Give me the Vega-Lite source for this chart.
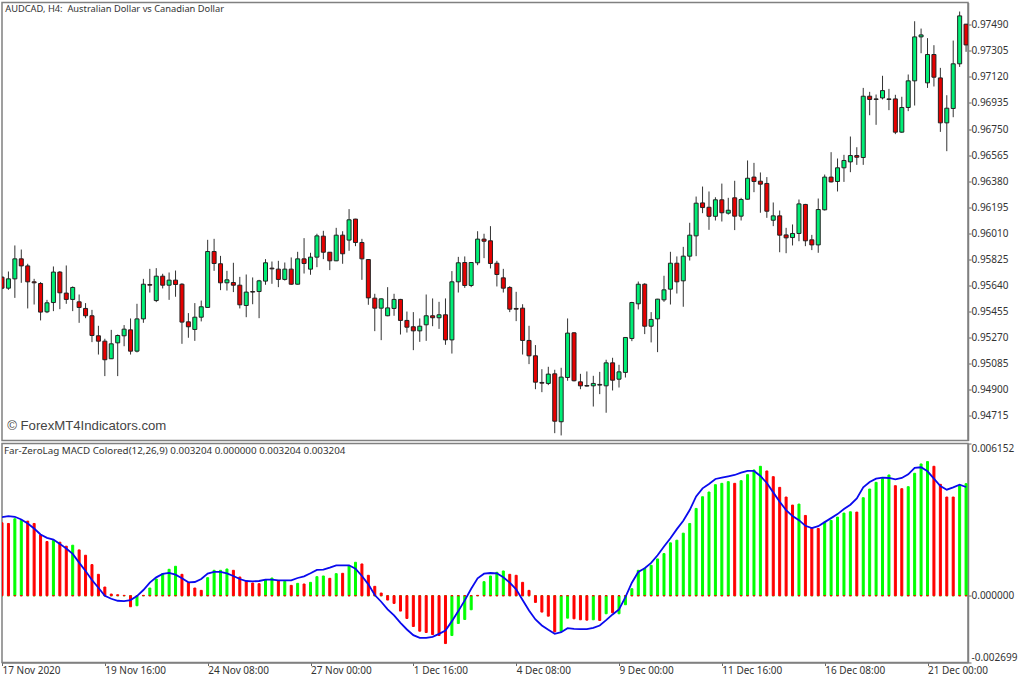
{"$schema":"https://vega.github.io/schema/vega-lite/v6.json","padding":{"left":0,"top":1.5,"right":0,"bottom":0},"background":"white","spacing":3,"bounds":"flush","config":{"view":{"stroke":"#808080","strokeWidth":1.5},"axis":{"labelFont":"Noto Sans","labelFontSize":10,"labelColor":"#333333","tickColor":"#666666","domainColor":"#808080","title":null,"grid":false,"labelOverlap":false}},
"datasets":{"candles":[
{"i":0,"o":95699,"h":95704,"l":95614,"c":95621,"dir":"down"},
{"i":1,"o":95621,"h":95739,"l":95609,"c":95687,"dir":"up"},
{"i":2,"o":95687,"h":95924,"l":95552,"c":95829,"dir":"up"},
{"i":3,"o":95829,"h":95895,"l":95659,"c":95779,"dir":"down"},
{"i":4,"o":95779,"h":95794,"l":95477,"c":95666,"dir":"down"},
{"i":5,"o":95666,"h":95687,"l":95505,"c":95659,"dir":"down"},
{"i":6,"o":95654,"h":95664,"l":95392,"c":95451,"dir":"down"},
{"i":7,"o":95453,"h":95538,"l":95444,"c":95517,"dir":"up"},
{"i":8,"o":95519,"h":95775,"l":95458,"c":95735,"dir":"up"},
{"i":9,"o":95735,"h":95742,"l":95472,"c":95588,"dir":"down"},
{"i":10,"o":95586,"h":95782,"l":95510,"c":95541,"dir":"down"},
{"i":11,"o":95541,"h":95633,"l":95458,"c":95626,"dir":"up"},
{"i":12,"o":95524,"h":95576,"l":95375,"c":95484,"dir":"down"},
{"i":13,"o":95477,"h":95515,"l":95408,"c":95425,"dir":"down"},
{"i":14,"o":95425,"h":95467,"l":95238,"c":95285,"dir":"down"},
{"i":15,"o":95283,"h":95354,"l":95150,"c":95245,"dir":"down"},
{"i":16,"o":95245,"h":95262,"l":94997,"c":95113,"dir":"down"},
{"i":17,"o":95120,"h":95325,"l":95118,"c":95226,"dir":"up"},
{"i":18,"o":95233,"h":95292,"l":94997,"c":95285,"dir":"up"},
{"i":19,"o":95283,"h":95359,"l":95209,"c":95330,"dir":"up"},
{"i":20,"o":95325,"h":95406,"l":95150,"c":95174,"dir":"down"},
{"i":21,"o":95174,"h":95510,"l":95165,"c":95403,"dir":"up"},
{"i":22,"o":95403,"h":95687,"l":95375,"c":95649,"dir":"up"},
{"i":23,"o":95647,"h":95758,"l":95590,"c":95642,"dir":"down"},
{"i":24,"o":95533,"h":95763,"l":95522,"c":95706,"dir":"up"},
{"i":25,"o":95706,"h":95723,"l":95619,"c":95642,"dir":"down"},
{"i":26,"o":95642,"h":95732,"l":95538,"c":95678,"dir":"up"},
{"i":27,"o":95678,"h":95746,"l":95560,"c":95647,"dir":"down"},
{"i":28,"o":95649,"h":95656,"l":95226,"c":95380,"dir":"down"},
{"i":29,"o":95382,"h":95444,"l":95269,"c":95347,"dir":"down"},
{"i":30,"o":95328,"h":95515,"l":95247,"c":95415,"dir":"up"},
{"i":31,"o":95415,"h":95533,"l":95385,"c":95489,"dir":"up"},
{"i":32,"o":95484,"h":95964,"l":95481,"c":95881,"dir":"up"},
{"i":33,"o":95881,"h":95971,"l":95744,"c":95796,"dir":"down"},
{"i":34,"o":95794,"h":95850,"l":95607,"c":95659,"dir":"down"},
{"i":35,"o":95659,"h":95744,"l":95604,"c":95680,"dir":"up"},
{"i":36,"o":95661,"h":95801,"l":95593,"c":95642,"dir":"down"},
{"i":37,"o":95642,"h":95701,"l":95477,"c":95503,"dir":"down"},
{"i":38,"o":95498,"h":95718,"l":95415,"c":95593,"dir":"up"},
{"i":39,"o":95597,"h":95697,"l":95507,"c":95593,"dir":"down"},
{"i":40,"o":95597,"h":95680,"l":95408,"c":95673,"dir":"up"},
{"i":41,"o":95671,"h":95827,"l":95645,"c":95801,"dir":"up"},
{"i":42,"o":95763,"h":95810,"l":95652,"c":95758,"dir":"down"},
{"i":43,"o":95756,"h":95815,"l":95628,"c":95683,"dir":"down"},
{"i":44,"o":95683,"h":95803,"l":95675,"c":95756,"dir":"up"},
{"i":45,"o":95756,"h":95839,"l":95645,"c":95649,"dir":"down"},
{"i":46,"o":95649,"h":95879,"l":95647,"c":95829,"dir":"up"},
{"i":47,"o":95829,"h":95976,"l":95725,"c":95796,"dir":"down"},
{"i":48,"o":95756,"h":95872,"l":95716,"c":95841,"dir":"up"},
{"i":49,"o":95841,"h":96007,"l":95770,"c":95992,"dir":"up"},
{"i":50,"o":95990,"h":96028,"l":95827,"c":95876,"dir":"down"},
{"i":51,"o":95876,"h":95876,"l":95749,"c":95815,"dir":"down"},
{"i":52,"o":95815,"h":96049,"l":95813,"c":95997,"dir":"up"},
{"i":53,"o":95997,"h":96025,"l":95794,"c":95865,"dir":"down"},
{"i":54,"o":95962,"h":96182,"l":95886,"c":96106,"dir":"up"},
{"i":55,"o":96111,"h":96113,"l":95919,"c":95945,"dir":"down"},
{"i":56,"o":95945,"h":95971,"l":95680,"c":95829,"dir":"down"},
{"i":57,"o":95824,"h":95827,"l":95503,"c":95552,"dir":"down"},
{"i":58,"o":95550,"h":95581,"l":95316,"c":95479,"dir":"down"},
{"i":59,"o":95479,"h":95548,"l":95252,"c":95545,"dir":"up"},
{"i":60,"o":95425,"h":95628,"l":95422,"c":95481,"dir":"up"},
{"i":61,"o":95477,"h":95581,"l":95425,"c":95541,"dir":"up"},
{"i":62,"o":95541,"h":95545,"l":95292,"c":95392,"dir":"down"},
{"i":63,"o":95392,"h":95455,"l":95306,"c":95344,"dir":"down"},
{"i":64,"o":95347,"h":95451,"l":95181,"c":95318,"dir":"down"},
{"i":65,"o":95318,"h":95406,"l":95240,"c":95351,"dir":"up"},
{"i":66,"o":95361,"h":95576,"l":95247,"c":95425,"dir":"up"},
{"i":67,"o":95425,"h":95548,"l":95351,"c":95411,"dir":"down"},
{"i":68,"o":95411,"h":95524,"l":95332,"c":95432,"dir":"up"},
{"i":69,"o":95432,"h":95548,"l":95219,"c":95254,"dir":"down"},
{"i":70,"o":95254,"h":95742,"l":95157,"c":95666,"dir":"up"},
{"i":71,"o":95666,"h":95843,"l":95590,"c":95801,"dir":"up"},
{"i":72,"o":95803,"h":95846,"l":95623,"c":95640,"dir":"down"},
{"i":73,"o":95640,"h":95805,"l":95628,"c":95803,"dir":"up"},
{"i":74,"o":95801,"h":96025,"l":95784,"c":95969,"dir":"up"},
{"i":75,"o":95969,"h":96007,"l":95834,"c":95954,"dir":"down"},
{"i":76,"o":95957,"h":96061,"l":95761,"c":95796,"dir":"down"},
{"i":77,"o":95798,"h":95815,"l":95633,"c":95718,"dir":"down"},
{"i":78,"o":95694,"h":95758,"l":95590,"c":95621,"dir":"down"},
{"i":79,"o":95626,"h":95635,"l":95451,"c":95472,"dir":"down"},
{"i":80,"o":95477,"h":95595,"l":95387,"c":95472,"dir":"down"},
{"i":81,"o":95479,"h":95507,"l":95150,"c":95250,"dir":"down"},
{"i":82,"o":95250,"h":95354,"l":95082,"c":95141,"dir":"down"},
{"i":83,"o":95141,"h":95217,"l":94904,"c":94954,"dir":"down"},
{"i":84,"o":94952,"h":95046,"l":94883,"c":94947,"dir":"down"},
{"i":85,"o":94945,"h":95063,"l":94933,"c":95011,"dir":"up"},
{"i":86,"o":95013,"h":95042,"l":94592,"c":94677,"dir":"down"},
{"i":87,"o":94673,"h":95056,"l":94576,"c":94990,"dir":"up"},
{"i":88,"o":94987,"h":95406,"l":94964,"c":95302,"dir":"up"},
{"i":89,"o":95304,"h":95309,"l":94959,"c":94964,"dir":"down"},
{"i":90,"o":94956,"h":95013,"l":94904,"c":94928,"dir":"down"},
{"i":91,"o":94930,"h":95030,"l":94923,"c":94926,"dir":"down"},
{"i":92,"o":94928,"h":94999,"l":94781,"c":94945,"dir":"up"},
{"i":93,"o":94938,"h":95027,"l":94869,"c":94933,"dir":"down"},
{"i":94,"o":94928,"h":95113,"l":94737,"c":95091,"dir":"up"},
{"i":95,"o":95091,"h":95127,"l":94895,"c":94968,"dir":"down"},
{"i":96,"o":94975,"h":95077,"l":94916,"c":95027,"dir":"up"},
{"i":97,"o":95023,"h":95271,"l":94987,"c":95271,"dir":"up"},
{"i":98,"o":95264,"h":95524,"l":95245,"c":95519,"dir":"up"},
{"i":99,"o":95510,"h":95668,"l":95470,"c":95649,"dir":"up"},
{"i":100,"o":95649,"h":95656,"l":95295,"c":95351,"dir":"down"},
{"i":101,"o":95351,"h":95451,"l":95236,"c":95399,"dir":"up"},
{"i":102,"o":95403,"h":95545,"l":95167,"c":95543,"dir":"up"},
{"i":103,"o":95538,"h":95709,"l":95524,"c":95609,"dir":"up"},
{"i":104,"o":95614,"h":95879,"l":95505,"c":95798,"dir":"up"},
{"i":105,"o":95798,"h":95846,"l":95583,"c":95666,"dir":"down"},
{"i":106,"o":95673,"h":95914,"l":95489,"c":95848,"dir":"up"},
{"i":107,"o":95848,"h":96085,"l":95817,"c":95997,"dir":"up"},
{"i":108,"o":95992,"h":96271,"l":95848,"c":96224,"dir":"up"},
{"i":109,"o":96226,"h":96342,"l":96153,"c":96193,"dir":"down"},
{"i":110,"o":96195,"h":96307,"l":96035,"c":96131,"dir":"down"},
{"i":111,"o":96131,"h":96266,"l":96101,"c":96248,"dir":"up"},
{"i":112,"o":96248,"h":96363,"l":96094,"c":96156,"dir":"down"},
{"i":113,"o":96153,"h":96262,"l":96143,"c":96174,"dir":"up"},
{"i":114,"o":96262,"h":96383,"l":96033,"c":96132,"dir":"down"},
{"i":115,"o":96132,"h":96262,"l":96101,"c":96250,"dir":"up"},
{"i":116,"o":96252,"h":96527,"l":96250,"c":96401,"dir":"up"},
{"i":117,"o":96409,"h":96510,"l":96302,"c":96378,"dir":"down"},
{"i":118,"o":96380,"h":96442,"l":96156,"c":96359,"dir":"down"},
{"i":119,"o":96364,"h":96409,"l":96120,"c":96167,"dir":"down"},
{"i":120,"o":96103,"h":96229,"l":96061,"c":96134,"dir":"up"},
{"i":121,"o":96134,"h":96172,"l":95876,"c":95997,"dir":"down"},
{"i":122,"o":95999,"h":96049,"l":95869,"c":95978,"dir":"down"},
{"i":123,"o":95980,"h":96073,"l":95924,"c":96009,"dir":"up"},
{"i":124,"o":96009,"h":96250,"l":95954,"c":96219,"dir":"up"},
{"i":125,"o":96215,"h":96219,"l":95919,"c":95957,"dir":"down"},
{"i":126,"o":95964,"h":95999,"l":95891,"c":95928,"dir":"down"},
{"i":127,"o":95928,"h":96257,"l":95872,"c":96179,"dir":"up"},
{"i":128,"o":96177,"h":96427,"l":96172,"c":96409,"dir":"up"},
{"i":129,"o":96409,"h":96586,"l":96371,"c":96375,"dir":"down"},
{"i":130,"o":96378,"h":96541,"l":96307,"c":96475,"dir":"up"},
{"i":131,"o":96475,"h":96567,"l":96375,"c":96527,"dir":"up"},
{"i":132,"o":96517,"h":96697,"l":96444,"c":96562,"dir":"up"},
{"i":133,"o":96562,"h":96621,"l":96496,"c":96550,"dir":"down"},
{"i":134,"o":96548,"h":97042,"l":96496,"c":96983,"dir":"up"},
{"i":135,"o":96983,"h":97014,"l":96848,"c":96960,"dir":"down"},
{"i":136,"o":96964,"h":96995,"l":96780,"c":96960,"dir":"down"},
{"i":137,"o":96971,"h":97128,"l":96960,"c":97023,"dir":"up"},
{"i":138,"o":96964,"h":97035,"l":96884,"c":96960,"dir":"down"},
{"i":139,"o":96964,"h":96993,"l":96714,"c":96728,"dir":"down"},
{"i":140,"o":96728,"h":96979,"l":96723,"c":96903,"dir":"up"},
{"i":141,"o":96903,"h":97137,"l":96877,"c":97092,"dir":"up"},
{"i":142,"o":97092,"h":97515,"l":96917,"c":97404,"dir":"up"},
{"i":143,"o":97404,"h":97463,"l":97288,"c":97418,"dir":"up"},
{"i":144,"o":97078,"h":97395,"l":97042,"c":97279,"dir":"up"},
{"i":145,"o":97279,"h":97345,"l":97052,"c":97118,"dir":"down"},
{"i":146,"o":97113,"h":97184,"l":96730,"c":96794,"dir":"down"},
{"i":147,"o":96794,"h":96990,"l":96593,"c":96898,"dir":"up"},
{"i":148,"o":96896,"h":97378,"l":96834,"c":97213,"dir":"up"},
{"i":149,"o":97213,"h":97584,"l":97191,"c":97553,"dir":"up"},
{"i":150,"o":97494,"h":97496,"l":97298,"c":97347,"dir":"down"}
]},
"vconcat":[{"width":966,"height":438,"data":{"name":"candles"},"layer":[
{"mark":{"type":"rule","color":"#333333","strokeWidth":1,"clip":true},"encoding":{"x":{"field":"i","type":"quantitative","scale":{"domain":[0,150.3],"nice":false,"zero":false,"padding":0},"axis":null},"y":{"field":"l","type":"quantitative","scale":{"domain":[94540,97648],"nice":false,"zero":false},"axis":{"orient":"right","values":[97490,97305,97120,96935,96750,96565,96380,96195,96010,95825,95640,95455,95270,95085,94900,94715],"tickCount":20,"labelExpr":"format(datum.value/100000,'.5f')","tickSize":3,"labelPadding":0,"domainWidth":1.5}},"y2":{"field":"h"}}},
{"mark":{"type":"bar","width":4,"stroke":"#222222","strokeWidth":1,"clip":true},"encoding":{"x":{"field":"i","type":"quantitative"},"y":{"field":"o","type":"quantitative"},"y2":{"field":"c"},"fill":{"field":"dir","type":"nominal","scale":{"domain":["up","down"],"range":["#00ee76","#e60000"]},"legend":null}}},
{"data":{"values":[{"t":"AUDCAD, H4:\u00a0 Australian Dollar vs Canadian Dollar"}]},"mark":{"type":"text","align":"left","baseline":"middle","font":"Noto Sans","fontSize":9.3,"color":"#333333"},"encoding":{"text":{"field":"t"},"x":{"datum":0.5},"y":{"datum":97603}}},
{"data":{"values":[{"t":"© ForexMT4Indicators.com"}]},"mark":{"type":"text","align":"left","baseline":"middle","font":"Liberation Sans","fontSize":13.2,"color":"#444444"},"encoding":{"text":{"field":"t"},"x":{"datum":0.8},"y":{"datum":94640}}}
]},
{"width":966,"height":219,"data":{"values":[
{"i":0,"up":0,"down":2947,"sig":3177},{"i":1,"up":0,"down":2920,"sig":3217},{"i":2,"up":3109,"down":0,"sig":3190},{"i":3,"up":3055,"down":0,"sig":3082},{"i":4,"up":0,"down":3015,"sig":2920},{"i":5,"up":0,"down":2920,"sig":2717},{"i":6,"up":0,"down":2460,"sig":2474},{"i":7,"up":0,"down":2190,"sig":2339},{"i":8,"up":2244,"down":0,"sig":2271},{"i":9,"up":0,"down":2163,"sig":2095},
{"i":10,"up":0,"down":2001,"sig":1906},{"i":11,"up":2041,"down":0,"sig":1690},{"i":12,"up":0,"down":1852,"sig":1338},{"i":13,"up":0,"down":1636,"sig":1000},{"i":14,"up":0,"down":1257,"sig":635},{"i":15,"up":0,"down":865,"sig":324},{"i":16,"up":0,"down":351,"sig":0},{"i":17,"up":0,"down":68,"sig":-122},{"i":18,"up":0,"down":41,"sig":-203},{"i":19,"up":0,"down":14,"sig":-216},
{"i":20,"up":0,"down":-446,"sig":-176},{"i":21,"up":-406,"down":0,"sig":-14},{"i":22,"up":0,"down":14,"sig":230},{"i":23,"up":311,"down":0,"sig":527},{"i":24,"up":676,"down":0,"sig":743},{"i":25,"up":892,"down":0,"sig":879},{"i":26,"up":1068,"down":0,"sig":919},{"i":27,"up":1190,"down":0,"sig":852},{"i":28,"up":0,"down":865,"sig":703},{"i":29,"up":0,"down":527,"sig":541},
{"i":30,"up":0,"down":311,"sig":554},{"i":31,"up":0,"down":216,"sig":676},{"i":32,"up":730,"down":0,"sig":892},{"i":33,"up":1027,"down":0,"sig":960},{"i":34,"up":1027,"down":0,"sig":960},{"i":35,"up":1081,"down":0,"sig":906},{"i":36,"up":0,"down":1027,"sig":798},{"i":37,"up":0,"down":757,"sig":676},{"i":38,"up":0,"down":581,"sig":595},{"i":39,"up":0,"down":514,"sig":581},
{"i":40,"up":0,"down":487,"sig":595},{"i":41,"up":649,"down":0,"sig":649},{"i":42,"up":716,"down":0,"sig":649},{"i":43,"up":0,"down":595,"sig":622},{"i":44,"up":581,"down":0,"sig":622},{"i":45,"up":0,"down":419,"sig":622},{"i":46,"up":500,"down":0,"sig":716},{"i":47,"up":0,"down":473,"sig":784},{"i":48,"up":541,"down":0,"sig":906},{"i":49,"up":771,"down":0,"sig":1041},
{"i":50,"up":798,"down":0,"sig":1054},{"i":51,"up":0,"down":703,"sig":1135},{"i":52,"up":892,"down":0,"sig":1230},{"i":53,"up":0,"down":906,"sig":1230},{"i":54,"up":1203,"down":0,"sig":1230},{"i":55,"up":1352,"down":0,"sig":1095},{"i":56,"up":0,"down":1284,"sig":798},{"i":57,"up":0,"down":825,"sig":460},{"i":58,"up":0,"down":379,"sig":27},{"i":59,"up":0,"down":108,"sig":-243},
{"i":60,"up":0,"down":-176,"sig":-554},{"i":61,"up":0,"down":-311,"sig":-798},{"i":62,"up":0,"down":-622,"sig":-1095},{"i":63,"up":0,"down":-919,"sig":-1365},{"i":64,"up":0,"down":-1244,"sig":-1595},{"i":65,"up":0,"down":-1433,"sig":-1703},{"i":66,"up":0,"down":-1487,"sig":-1703},{"i":67,"up":0,"down":-1568,"sig":-1663},{"i":68,"up":0,"down":-1609,"sig":-1541},{"i":69,"up":0,"down":-1933,"sig":-1406},
{"i":70,"up":-1609,"down":0,"sig":-1027},{"i":71,"up":-1122,"down":0,"sig":-622},{"i":72,"up":-960,"down":0,"sig":-189},{"i":73,"up":-568,"down":0,"sig":284},{"i":74,"up":0,"down":14,"sig":703},{"i":75,"up":568,"down":0,"sig":892},{"i":76,"up":798,"down":0,"sig":919},{"i":77,"up":946,"down":0,"sig":906},{"i":78,"up":1000,"down":0,"sig":743},{"i":79,"up":0,"down":865,"sig":527},
{"i":80,"up":0,"down":825,"sig":257},{"i":81,"up":0,"down":541,"sig":-176},{"i":82,"up":0,"down":216,"sig":-595},{"i":83,"up":0,"down":-270,"sig":-960},{"i":84,"up":0,"down":-662,"sig":-1203},{"i":85,"up":0,"down":-825,"sig":-1379},{"i":86,"up":0,"down":-1460,"sig":-1541},{"i":87,"up":-1433,"down":0,"sig":-1473},{"i":88,"up":-906,"down":0,"sig":-1311},{"i":89,"up":0,"down":-933,"sig":-1338},
{"i":90,"up":0,"down":-973,"sig":-1352},{"i":91,"up":0,"down":-987,"sig":-1352},{"i":92,"up":-973,"down":0,"sig":-1298},{"i":93,"up":0,"down":-1000,"sig":-1203},{"i":94,"up":-730,"down":0,"sig":-987},{"i":95,"up":0,"down":-689,"sig":-757},{"i":96,"up":-730,"down":0,"sig":-554},{"i":97,"up":-365,"down":0,"sig":-54},{"i":98,"up":284,"down":0,"sig":527},{"i":99,"up":1027,"down":0,"sig":960},
{"i":100,"up":1108,"down":0,"sig":1108},{"i":101,"up":1230,"down":0,"sig":1325},{"i":102,"up":1487,"down":0,"sig":1636},{"i":103,"up":1703,"down":0,"sig":1987},{"i":104,"up":2136,"down":0,"sig":2325},{"i":105,"up":2244,"down":0,"sig":2690},{"i":106,"up":2528,"down":0,"sig":3028},{"i":107,"up":2920,"down":0,"sig":3461},{"i":108,"up":3528,"down":0,"sig":4015},{"i":109,"up":4001,"down":0,"sig":4339},
{"i":110,"up":4191,"down":0,"sig":4515},{"i":111,"up":4488,"down":0,"sig":4718},{"i":112,"up":4542,"down":0,"sig":4772},{"i":113,"up":4610,"down":0,"sig":4826},{"i":114,"up":0,"down":4542,"sig":4880},{"i":115,"up":4650,"down":0,"sig":4975},{"i":116,"up":4894,"down":0,"sig":5042},{"i":117,"up":5083,"down":0,"sig":5042},{"i":118,"up":5231,"down":0,"sig":4839},{"i":119,"up":0,"down":5042,"sig":4556},
{"i":120,"up":0,"down":4812,"sig":4177},{"i":121,"up":0,"down":4380,"sig":3799},{"i":122,"up":0,"down":3988,"sig":3461},{"i":123,"up":0,"down":3663,"sig":3217},{"i":124,"up":3704,"down":0,"sig":3055},{"i":125,"up":0,"down":3244,"sig":2825},{"i":126,"up":0,"down":2744,"sig":2731},{"i":127,"up":0,"down":2717,"sig":2812},{"i":128,"up":2974,"down":0,"sig":2974},{"i":129,"up":3042,"down":0,"sig":3136},
{"i":130,"up":3177,"down":0,"sig":3298},{"i":131,"up":3339,"down":0,"sig":3501},{"i":132,"up":3393,"down":0,"sig":3677},{"i":133,"up":0,"down":3380,"sig":3934},{"i":134,"up":3961,"down":0,"sig":4380},{"i":135,"up":4312,"down":0,"sig":4596},{"i":136,"up":4583,"down":0,"sig":4731},{"i":137,"up":4731,"down":0,"sig":4772},{"i":138,"up":4880,"down":0,"sig":4758},{"i":139,"up":0,"down":4447,"sig":4704},
{"i":140,"up":0,"down":4326,"sig":4758},{"i":141,"up":4407,"down":0,"sig":4907},{"i":142,"up":4948,"down":0,"sig":5164},{"i":143,"up":5326,"down":0,"sig":5191},{"i":144,"up":5421,"down":0,"sig":5029},{"i":145,"up":0,"down":5231,"sig":4731},{"i":146,"up":0,"down":4501,"sig":4434},{"i":147,"up":0,"down":3988,"sig":4285},{"i":148,"up":0,"down":3988,"sig":4380},{"i":149,"up":4461,"down":0,"sig":4488},{"i":150,"up":4529,"down":0,"sig":4393}
]},"layer":[
{"mark":{"type":"bar","width":2,"fill":"#00ff00","stroke":"#00ff00","strokeWidth":1,"clip":true},"encoding":{"x":{"field":"i","type":"quantitative","scale":{"domain":[0,150.3],"nice":false,"zero":false,"padding":0},"axis":{"values":[0,16,32,48,64,80,96,112,128,144],"tickCount":20,"labelExpr":"['17 Nov 2020','19 Nov 16:00','24 Nov 08:00','27 Nov 00:00','1 Dec 16:00','4 Dec 08:00','9 Dec 00:00','11 Dec 16:00','16 Dec 08:00','21 Dec 00:00'][datum.value/16]","labelAlign":"left","labelPadding":0,"tickSize":3,"labelFlush":false,"domain":true,"domainWidth":1.5}},"y":{"field":"up","type":"quantitative","scale":{"domain":[-2699,6152],"nice":false,"zero":false},"axis":{"orient":"right","values":[6152,0,-2699],"labelExpr":"datum.value<0?'-0.002699':format(datum.value/1000000,'.6f')","labelFlush":true,"tickSize":3,"labelPadding":0,"domainWidth":1.5}},"y2":{"datum":0}}},
{"mark":{"type":"bar","width":2,"fill":"#ff0000","stroke":"#ff0000","strokeWidth":1,"clip":true},"encoding":{"x":{"field":"i","type":"quantitative"},"y":{"field":"down","type":"quantitative"},"y2":{"datum":0}}},
{"mark":{"type":"line","color":"#0a0aee","strokeWidth":1.8,"clip":true},"encoding":{"x":{"field":"i","type":"quantitative"},"y":{"field":"sig","type":"quantitative"}}},
{"data":{"values":[{"t":"Far-ZeroLag MACD Colored(12,26,9) 0.003204 0.000000 0.003204 0.003204"}]},"mark":{"type":"text","align":"left","baseline":"middle","font":"Noto Sans","fontSize":9.8,"color":"#333333"},"encoding":{"text":{"field":"t"},"x":{"datum":0.3},"y":{"datum":5850}}}
]}]}
